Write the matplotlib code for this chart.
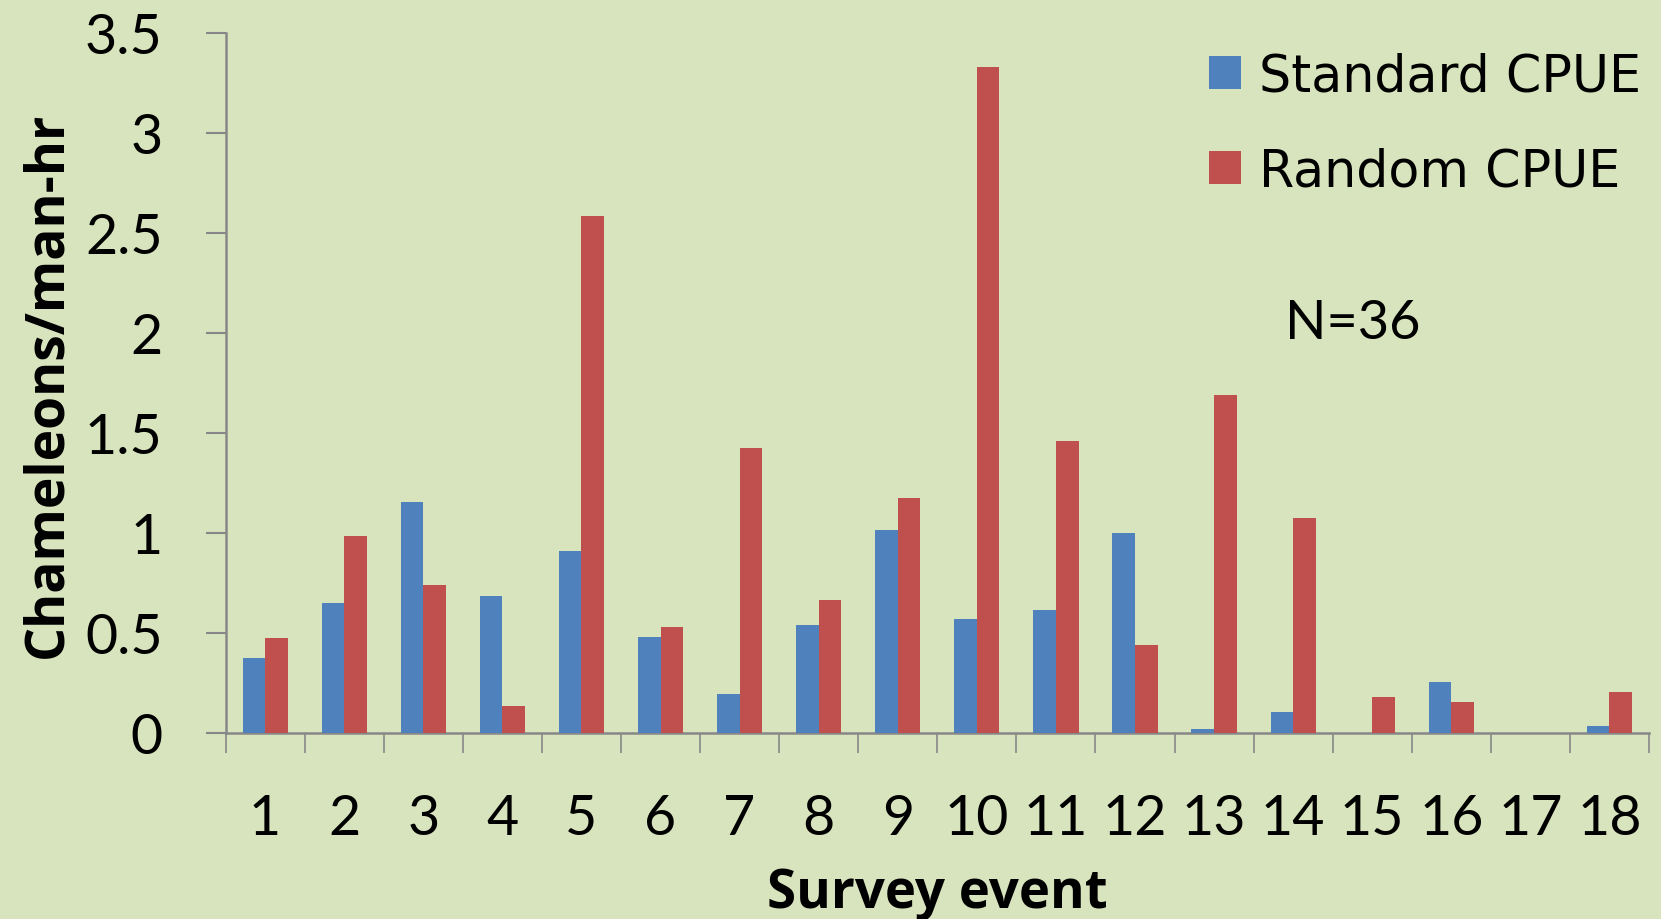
import matplotlib
matplotlib.use("Agg")
import matplotlib.pyplot as plt
import numpy as np

# ---- data ----
events = [str(i) for i in range(1, 19)]
standard_cpue = [0.375, 0.649, 1.155, 0.685, 0.908, 0.482, 0.196, 0.540, 1.017,
                 0.571, 0.615, 1.000, 0.019, 0.104, 0.0, 0.257, 0.0, 0.036]
random_cpue = [0.475, 0.985, 0.738, 0.133, 2.586, 0.530, 1.426, 0.666, 1.174,
               3.332, 1.460, 0.441, 1.688, 1.073, 0.182, 0.157, 0.0, 0.203]
series_names = ["Standard CPUE", "Random CPUE"]
yticks = [0, 0.5, 1, 1.5, 2, 2.5, 3, 3.5]
ytick_labels = ["0", "0.5", "1", "1.5", "2", "2.5", "3", "3.5"]
annotation = "N=36"

BG = "#D7E4BD"
BLUE = "#4F81BD"
RED = "#C0504D"
GRAY = "#878787"

W, H = 1661, 920
fig = plt.figure(figsize=(W / 100, H / 100), dpi=100, facecolor=BG)
ax = fig.add_axes([225.6 / W, 186 / H, (1649 - 225.6) / W, (734 - 34) / H])
ax.set_facecolor(BG)

x = np.arange(len(events))
w = 1 / 3.5
ax.bar(x - w / 2, standard_cpue, width=w, color=BLUE, label=series_names[0], zorder=3)
ax.bar(x + w / 2, random_cpue, width=w, color=RED, label=series_names[1], zorder=3)

ax.set_xlim(-0.5, len(events) - 0.5)
ax.set_ylim(0, 3.5)

for s in ["top", "right"]:
    ax.spines[s].set_visible(False)
for s in ["left", "bottom"]:
    ax.spines[s].set_color(GRAY)
    ax.spines[s].set_linewidth(1.8)

# y axis
ax.set_yticks(yticks)
ax.set_yticklabels(ytick_labels, fontfamily="Lato", fontsize=40)
ax.tick_params(axis="y", direction="out", length=14.4, width=1.5, color=GRAY, pad=31)

# x axis: tick marks at category boundaries, labels at centres
ax.set_xticks(np.arange(-0.5, len(events) + 0.5, 1.0))
ax.set_xticklabels([])
ax.tick_params(axis="x", which="major", direction="out", length=14.4, width=1.2, color=GRAY)
ax.set_xticks(x, minor=True)
ax.set_xticklabels(events, minor=True, fontfamily="Lato", fontsize=40)
ax.tick_params(axis="x", which="minor", length=0, pad=43)

ax.set_xlabel("Survey event", fontfamily="Open Sans", fontweight="bold", fontsize=38,
              va="baseline")
ax.xaxis.set_label_coords(0.5, (734 - 908) / 700)
ax.set_ylabel("Chameleons/man-hr", fontfamily="Open Sans", fontweight="bold", fontsize=38.5,
              rotation=90, rotation_mode="anchor", ha="center", va="baseline")
ax.yaxis.set_label_coords((61 - 225.6) / 1423.4, 0.499)

ax.text((1353 - 225.6) / 1423.4, (734 - 339) / 700, annotation, transform=ax.transAxes,
        fontfamily="Lato", fontsize=39, ha="center", va="baseline")

leg = ax.legend(loc="upper left", bbox_to_anchor=(1209 / W, 1 - 52 / H),
                bbox_transform=fig.transFigure, frameon=False, borderpad=0,
                borderaxespad=0, handlelength=0.63, handleheight=0.63,
                handletextpad=0.36, labelspacing=0.89,
                prop={"family": "DejaVu Sans", "size": 36.5})

fig.savefig("out.png", dpi=100, facecolor=BG)
